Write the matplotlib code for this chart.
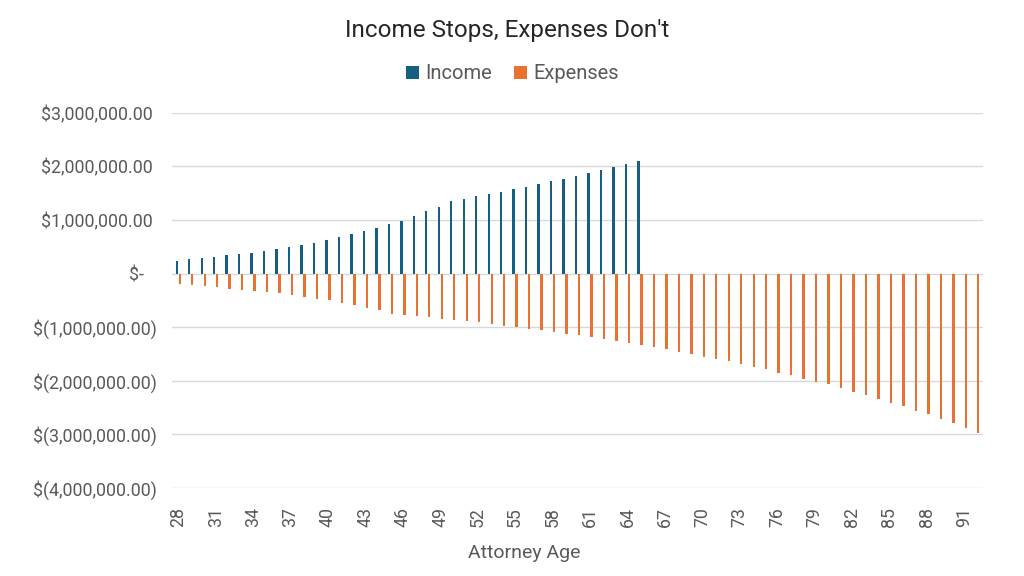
import matplotlib
matplotlib.use("Agg")
import matplotlib.pyplot as plt
import matplotlib.ticker as mticker
import numpy as np

plt.rcParams['font.family'] = ['Roboto', 'DejaVu Sans']

# Data (values in $ millions)
ages = list(range(28, 93))
income_m = [0.244, 0.27, 0.29, 0.31, 0.34, 0.36, 0.39, 0.425, 0.46, 0.49,
            0.54, 0.58, 0.63, 0.68, 0.73, 0.79, 0.85, 0.92, 0.99, 1.075,
            1.16, 1.25, 1.36, 1.39, 1.44, 1.49, 1.525, 1.57, 1.62, 1.67,
            1.72, 1.77, 1.82, 1.875, 1.93, 1.99, 2.05, 2.11]
expenses_m = [0.195, 0.21, 0.23, 0.25, 0.28, 0.30, 0.32, 0.35, 0.37, 0.40,
              0.43, 0.47, 0.50, 0.55, 0.585, 0.635, 0.685, 0.75, 0.77, 0.79,
              0.81, 0.84, 0.86, 0.89, 0.91, 0.94, 0.97, 1.00, 1.025, 1.06,
              1.09, 1.12, 1.15, 1.19, 1.23, 1.26, 1.30, 1.34,
              1.37, 1.41, 1.46, 1.51, 1.55, 1.59, 1.64, 1.69, 1.74, 1.79,
              1.85, 1.90, 1.96, 2.02, 2.07, 2.14, 2.21, 2.27, 2.34, 2.41,
              2.48, 2.56, 2.63, 2.71, 2.79, 2.88, 2.97]

income = np.array(income_m + [0] * (len(ages) - len(income_m))) * 1e6
expenses = -np.array(expenses_m) * 1e6

blue = '#156082'
orange = '#E97132'
grid_c = '#D9D9D9'
text_c = '#595959'

fig = plt.figure(figsize=(10.24, 5.76), dpi=100)
ax = fig.add_axes([0.168, 0.153, 0.792, 0.651])

x = np.arange(len(ages))
bw = 0.19
ax.bar(x - 0.12, income, width=bw, color=blue, label='Income', zorder=3)
ax.bar(x + 0.12, expenses, width=bw, color=orange, label='Expenses', zorder=3)

ax.set_xlim(-0.5, len(ages) - 0.5)
ax.set_ylim(-4e6, 3e6)
ax.yaxis.set_major_locator(mticker.MultipleLocator(1e6))


def acct(v, pos):
    if abs(v) < 1:
        return '$-   '
    if v < 0:
        return '$({:,.2f})'.format(-v)
    return '${:,.2f} '.format(v)


ax.yaxis.set_major_formatter(mticker.FuncFormatter(acct))
ax.grid(axis='y', color=grid_c, linewidth=1, zorder=0)
for s in ax.spines.values():
    s.set_visible(False)
ax.tick_params(axis='y', length=0, pad=11, labelsize=12.8, labelcolor=text_c)

ax.set_xticks(x[::3])
ax.set_xticklabels([str(a) for a in ages[::3]], rotation=90)
ax.tick_params(axis='x', length=0, pad=14, labelsize=12.8, labelcolor=text_c)
ax.set_xlabel('Attorney Age', fontsize=14, color=text_c)
ax.xaxis.set_label_coords(0.434, -0.15)

fig.suptitle("Income Stops, Expenses Don't", x=0.495, y=0.967,
             fontsize=17.5, color='#262626')
ax.legend(loc='center', bbox_to_anchor=(0.42, 1.104), ncol=2,
          frameon=False, fontsize=14.5, labelcolor=text_c,
          handlelength=0.65, handleheight=0.65, handletextpad=0.3,
          columnspacing=1.1)

fig.savefig('out.png', dpi=100)
